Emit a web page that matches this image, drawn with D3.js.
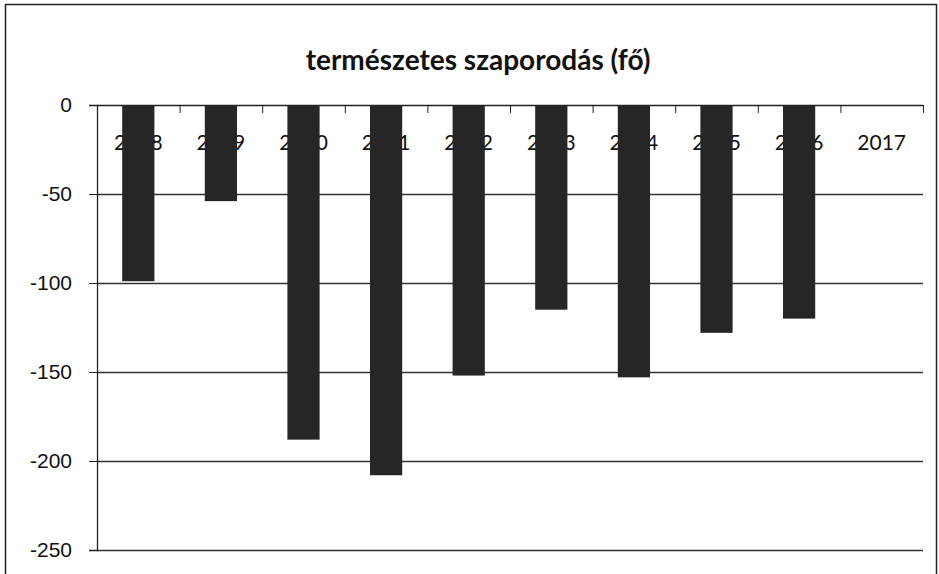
<!DOCTYPE html>
<html>
<head>
<meta charset="utf-8">
<script src="https://cdn.jsdelivr.net/npm/d3@7/dist/d3.min.js"></script>
<style>
  body { margin: 0; background: #fff; }
  svg { display: block; font-family: Lato, "Open Sans", sans-serif; }
  .axis text { font-size: 21px; fill: #111; }
</style>
</head>
<body>
<div id="chart"></div>
<script>
// természetes szaporodás (fő), évenként
var years = ["2008", "2009", "2010", "2011", "2012", "2013", "2014", "2015", "2016", "2017"];
var values = [-99, -54, -188, -208, -152, -115, -153, -128, -120, null];
var yTicks = [0, -50, -100, -150, -200, -250];
var title = "természetes szaporodás (fő)";

var width = 939;
var height = 574;
var margin = {top: 105, right: 16, bottom: 24, left: 97};
var innerW = width - margin.left - margin.right;
var innerH = height - margin.top - margin.bottom;

var svg = d3.select("#chart").append("svg")
  .attr("width", width)
  .attr("height", height);

// outer frame of the chart object
svg.append("rect")
  .attr("x", 5.5).attr("y", 4.5)
  .attr("width", width - 8).attr("height", height + 10)
  .attr("fill", "none")
  .attr("stroke", "#222")
  .attr("stroke-width", 1.5);

svg.append("text")
  .attr("x", 478)
  .attr("y", 70)
  .attr("text-anchor", "middle")
  .style("font-size", "28px")
  .style("font-weight", "bold")
  .attr("fill", "#111")
  .text(title);

var x = d3.scaleBand().domain(years).range([0, innerW]).paddingInner(0.61).paddingOuter(0.305);
var xb = d3.scaleBand().domain(years).range([0, innerW]);
var y = d3.scaleLinear().domain([0, -250]).range([0, innerH]);

var g = svg.append("g").attr("transform", "translate(" + margin.left + "," + margin.top + ")");

// gridlines
g.append("g").selectAll("line")
  .data(yTicks.filter(function(d) { return d !== 0; }))
  .enter().append("line")
  .attr("x1", 0).attr("x2", innerW)
  .attr("y1", function(d) { return Math.round(y(d)) + 0.5; })
  .attr("y2", function(d) { return Math.round(y(d)) + 0.5; })
  .attr("stroke", "#333")
  .attr("stroke-width", 1.3);

// y axis, plain hyphen minus like the original
var yAxis = d3.axisLeft(y).tickValues(yTicks).tickSize(8).tickPadding(17)
  .tickFormat(function(d) { return String(d); });
var ya = g.append("g").attr("class", "axis").call(yAxis);
ya.select(".domain").attr("stroke", "#222").attr("stroke-width", 1.3);
ya.selectAll(".tick line").attr("stroke", "#222");

// x axis at zero line, ticks at category boundaries pointing down
var xa = g.append("g").attr("class", "axis");
xa.append("line")
  .attr("x1", 0).attr("x2", innerW)
  .attr("y1", 0.5).attr("y2", 0.5)
  .attr("stroke", "#222").attr("stroke-width", 1.5);
xa.selectAll(".bnd")
  .data(years.concat(["end"]))
  .enter().append("line")
  .attr("class", "bnd")
  .attr("x1", function(d, i) { return i * xb.step() + 0.5; })
  .attr("x2", function(d, i) { return i * xb.step() + 0.5; })
  .attr("y1", 0).attr("y2", 8)
  .attr("stroke", "#222");
xa.selectAll(".lbl")
  .data(years)
  .enter().append("text")
  .attr("class", "lbl")
  .attr("x", function(d) { return xb(d) + xb.bandwidth() / 2; })
  .attr("y", 45)
  .attr("text-anchor", "middle")
  .text(function(d) { return d; });

// bars drawn over the labels, like the original
g.append("g").selectAll("rect")
  .data(years.map(function(yr, i) { return {year: yr, value: values[i]}; })
    .filter(function(d) { return d.value !== null; }))
  .enter().append("rect")
  .attr("x", function(d) { return x(d.year); })
  .attr("y", y(0))
  .attr("width", x.bandwidth())
  .attr("height", function(d) { return y(d.value) - y(0); })
  .attr("fill", "#262626");
</script>
</body>
</html>
